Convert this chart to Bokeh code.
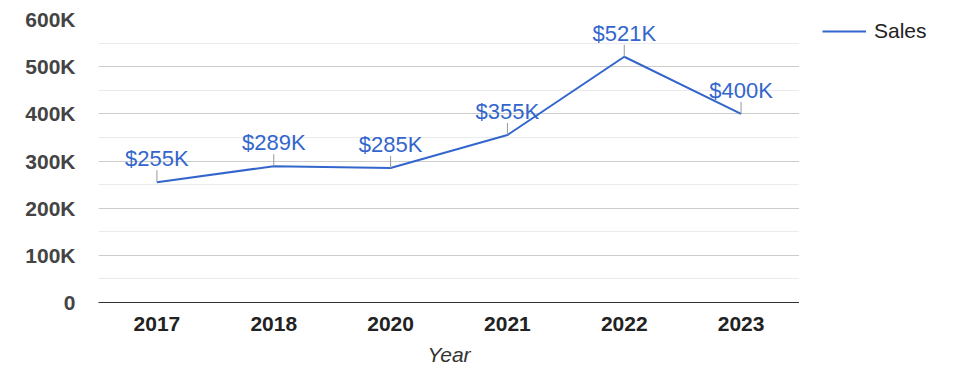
import math
from bokeh.plotting import figure
from bokeh.layouts import row
from bokeh.models import (ColumnDataSource, FactorRange, Range1d, SingleIntervalTicker,
                          Legend, LegendItem)
from bokeh.core.properties import value
from bokeh.embed import file_html
from bokeh.resources import INLINE

years = ["2017", "2018", "2020", "2021", "2022", "2023"]
sales = [255000, 289000, 285000, 355000, 521000, 400000]
sales_labels = ["$255K", "$289K", "$285K", "$355K", "$521K", "$400K"]
y_ticks = [0, 100000, 200000, 300000, 400000, 500000, 600000]
y_tick_labels = ["0", "100K", "200K", "300K", "400K", "500K", "600K"]
series_name = "Sales"

FONT = "Liberation Sans"
BLUE = "#3366cc"

src = ColumnDataSource(dict(year=years, sales=sales, label=sales_labels))

p = figure(frame_width=701, frame_height=283, output_backend="svg", toolbar_location=None,
           x_range=FactorRange(*years, range_padding=0),
           y_range=Range1d(0, 600000),
           min_border_left=98, min_border_right=0, min_border_top=19, min_border_bottom=60)
p.outline_line_color = None
p.background_fill_color = "white"

# grid
p.xgrid.grid_line_color = None
p.ygrid.ticker = SingleIntervalTicker(interval=100000, num_minor_ticks=2)
p.ygrid.grid_line_color = "#cccccc"
p.ygrid.minor_grid_line_color = "#ebebeb"

# y axis
p.yaxis.ticker = SingleIntervalTicker(interval=100000, num_minor_ticks=2)
p.yaxis.major_label_overrides = {t: l for t, l in zip(y_ticks, y_tick_labels)}
p.yaxis.axis_line_color = None
p.yaxis.major_tick_line_color = None
p.yaxis.minor_tick_line_color = None
p.yaxis.major_tick_out = 0
p.yaxis.minor_tick_out = 0
p.yaxis.major_label_standoff = 23
p.yaxis.major_label_text_font = FONT
p.yaxis.major_label_text_font_size = "21px"
p.yaxis.major_label_text_font_style = "bold"
p.yaxis.major_label_text_color = "#444444"

# x axis
p.xaxis.axis_line_color = "#333333"
p.xaxis.major_tick_line_color = None
p.xaxis.minor_tick_line_color = None
p.xaxis.major_tick_out = 0
p.xaxis.minor_tick_out = 0
p.xaxis.major_label_standoff = 14
p.xaxis.major_label_text_font = FONT
p.xaxis.major_label_text_font_size = "21px"
p.xaxis.major_label_text_font_style = "bold"
p.xaxis.major_label_text_color = "#222222"
p.xaxis.axis_label = "Year"
p.xaxis.axis_label_text_font = FONT
p.xaxis.axis_label_text_font_size = "21px"
p.xaxis.axis_label_text_font_style = "italic"
p.xaxis.axis_label_text_color = "#333333"
p.xaxis.axis_label_standoff = 9

line = p.line("year", "sales", source=src, line_color=BLUE, line_width=2)

# leader ticks
p.ray("year", "sales", source=src, length=12, length_units="screen", angle=math.pi / 2,
      line_color="#999999", line_width=1)

# data labels
p.text("year", "sales", text="label", source=src, text_align="center", text_baseline="bottom",
       y_offset=-11, text_font_size="22px", text_color=BLUE, text_font=value(FONT))

# legend panel (separate small figure to the right; its series line lies outside its view)
lf = figure(width=150, height=362, output_backend="svg", toolbar_location=None,
            x_range=FactorRange(*years), y_range=Range1d(-2, -1),
            min_border_left=23, min_border_top=19, min_border_right=0, min_border_bottom=0)
lf.axis.visible = False
lf.grid.visible = False
lf.outline_line_color = None
lf_line = lf.line("year", "sales", source=src, line_color=BLUE, line_width=2)
legend = Legend(items=[LegendItem(label=series_name, renderers=[lf_line])],
                location="top_left", border_line_color=None, background_fill_alpha=0,
                padding=0, margin=0, glyph_width=44, label_standoff=8,
                label_text_font=FONT, label_text_font_size="21px", label_text_color="#222222")
lf.add_layout(legend)

layout = row(p, lf)
open("out.html", "w").write(file_html(layout, INLINE))
